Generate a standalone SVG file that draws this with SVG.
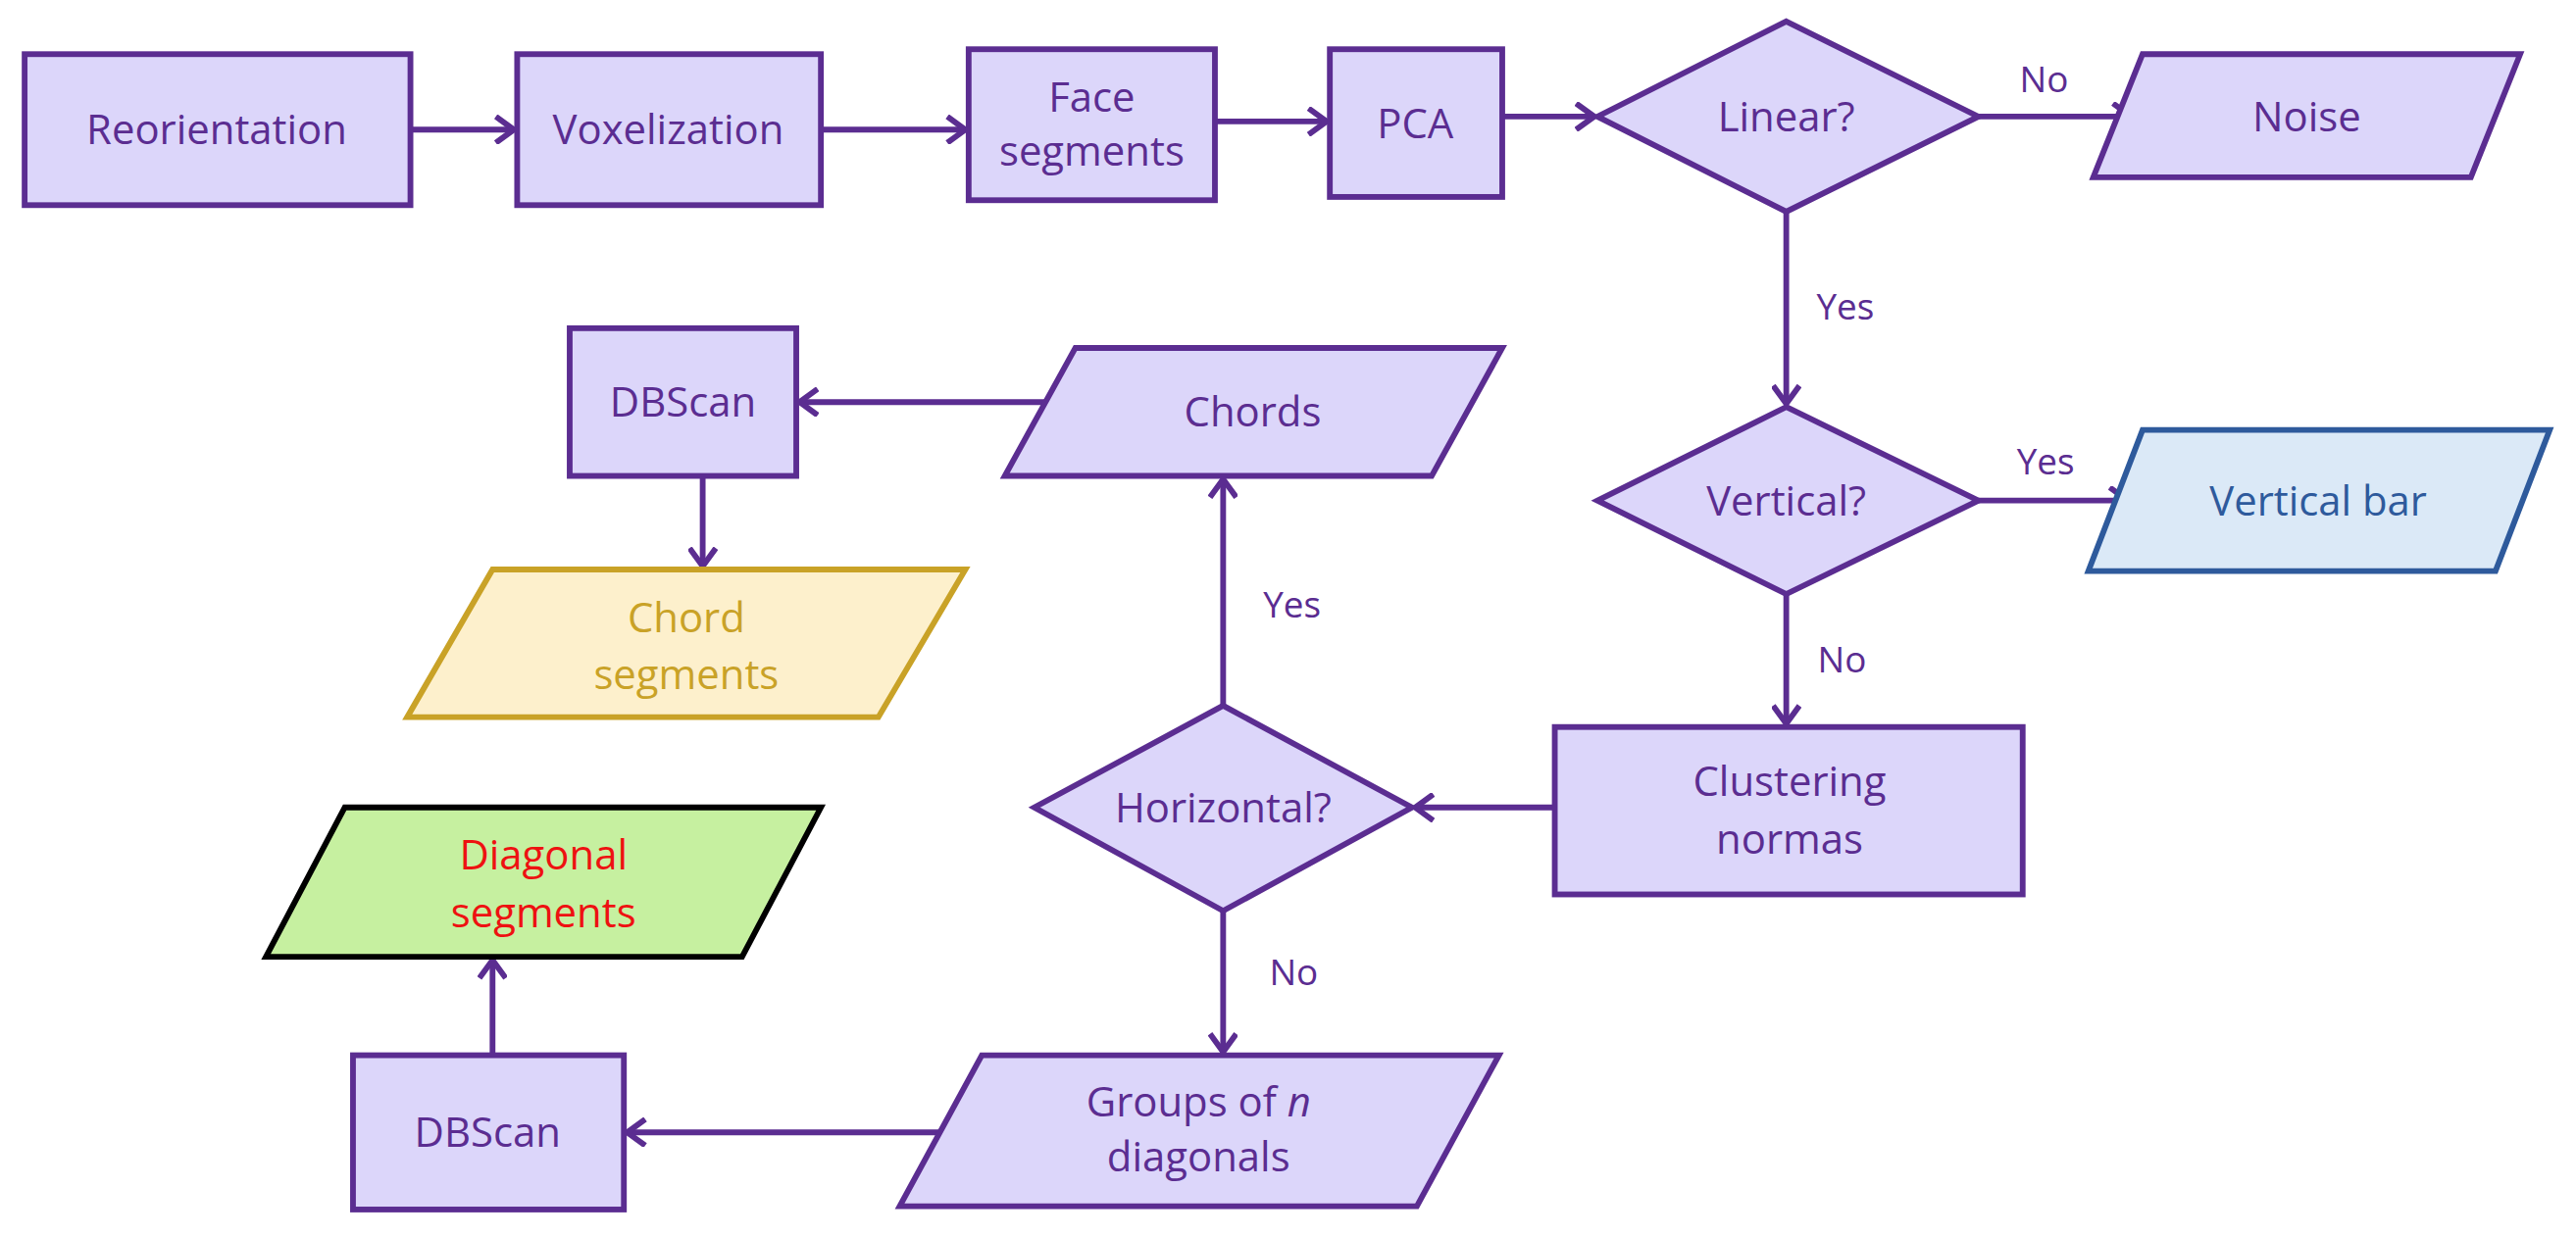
<svg xmlns="http://www.w3.org/2000/svg" width="2627" height="1262" viewBox="0 0 2627 1262">
<style>
.n{fill:#dcd6fa;stroke:#5b2d91;stroke-width:3.5;stroke-linejoin:miter}
.t{font-family:"Open Sans","Noto Sans",sans-serif;font-size:25px;fill:#5b2d91;text-anchor:middle}
.c line{stroke:#5b2d91;stroke-width:3.5;marker-end:url(#a)}
</style>
<defs>
<marker id="a" markerUnits="userSpaceOnUse" viewBox="0 0 14 18" refX="12" refY="9" markerWidth="14" markerHeight="18" orient="auto">
<path d="M1,1 L12,9 L1,17" fill="none" stroke="#5b2d91" stroke-width="3.5"/>
</marker>
</defs>
<rect width="2627" height="1262" fill="#fff"/>
<g transform="scale(1.6743)">
<g class="c">
<line x1="250" y1="79" x2="313" y2="79"/>
<line x1="500" y1="79" x2="588" y2="79"/>
<line x1="740" y1="74" x2="808" y2="74"/>
<line x1="915" y1="71" x2="971" y2="71"/>
<line x1="1205" y1="71" x2="1298" y2="71"/>
<line x1="1088" y1="129" x2="1088" y2="246"/>
<line x1="1205" y1="305" x2="1296" y2="305"/>
<line x1="1088" y1="362" x2="1088" y2="441"/>
<line x1="947" y1="492" x2="862" y2="492"/>
<line x1="745" y1="430" x2="745" y2="292"/>
<line x1="652" y1="245" x2="487" y2="245"/>
<line x1="428" y1="290" x2="428" y2="345"/>
<line x1="745" y1="555" x2="745" y2="641"/>
<line x1="588" y1="690" x2="382" y2="690"/>
<line x1="300" y1="643" x2="300" y2="585"/>
<text class="t" x="1245" y="56" style="font-size:22px">No</text>
<text class="t" x="1124" y="195" style="font-size:22px">Yes</text>
<text class="t" x="1246" y="289" style="font-size:22px">Yes</text>
<text class="t" x="1122" y="410" style="font-size:22px">No</text>
<text class="t" x="787" y="376" style="font-size:22px">Yes</text>
<text class="t" x="788" y="600" style="font-size:22px">No</text>
</g>
<g id="reorientation"><rect class="n" x="15" y="33" width="235" height="92"/><text class="t" x="132" y="88">Reorientation</text></g>
<g id="voxelization"><rect class="n" x="315" y="33" width="185" height="92"/><text class="t" x="407" y="88">Voxelization</text></g>
<g id="face"><rect class="n" x="590" y="30" width="150" height="92"/><text class="t" x="665" y="68">Face</text><text class="t" x="665" y="101">segments</text></g>
<g id="pca"><rect class="n" x="810" y="30" width="105" height="90"/><text class="t" x="862" y="84">PCA</text></g>
<g id="linear"><polygon class="n" points="1088,13 1205,71 1088,129 973,71"/><text class="t" x="1088" y="80">Linear?</text></g>
<g id="noise"><polygon class="n" points="1305,33 1535,33 1505,108 1275,108"/><text class="t" x="1405" y="80">Noise</text></g>
<g id="vertical"><polygon class="n" points="1088,248 1205,305 1088,362 973,305"/><text class="t" x="1088" y="314">Vertical?</text></g>
<g id="verticalbar"><polygon class="n" style="fill:#dbe9f7;stroke:#2e5a9c" points="1305,262 1553,262 1520,348 1272,348"/><text class="t" x="1412" y="314" style="fill:#2e5a9c">Vertical bar</text></g>
<g id="clustering"><rect class="n" x="947" y="443" width="285" height="102"/><text class="t" x="1090" y="485">Clustering</text><text class="t" x="1090" y="520">normas</text></g>
<g id="horizontal"><polygon class="n" points="745,430 860,492 745,555 630,492"/><text class="t" x="745" y="501">Horizontal?</text></g>
<g id="chords"><polygon class="n" points="655,212 915,212 872,290 612,290"/><text class="t" x="763" y="260">Chords</text></g>
<g id="dbscan1"><rect class="n" x="347" y="200" width="138" height="90"/><text class="t" x="416" y="254">DBScan</text></g>
<g id="chordseg"><polygon class="n" style="fill:#fdf0cc;stroke:#c9a227" points="300,347 588,347 535,437 248,437"/><text class="t" x="418" y="385" style="fill:#c9a227">Chord</text><text class="t" x="418" y="420" style="fill:#c9a227">segments</text></g>
<g id="diagseg"><polygon class="n" style="fill:#c6f0a0;stroke:#000" points="210,492 500,492 452,583 162,583"/><text class="t" x="331" y="530" style="fill:#ee1111">Diagonal</text><text class="t" x="331" y="565" style="fill:#ee1111">segments</text></g>
<g id="dbscan2"><rect class="n" x="215" y="643" width="165" height="94"/><text class="t" x="297" y="699">DBScan</text></g>
<g id="groups"><polygon class="n" points="598,643 913,643 863,735 548,735"/><text class="t" x="730" y="680">Groups of <tspan font-style="italic">n</tspan></text><text class="t" x="730" y="714">diagonals</text></g>
</g>
</svg>
